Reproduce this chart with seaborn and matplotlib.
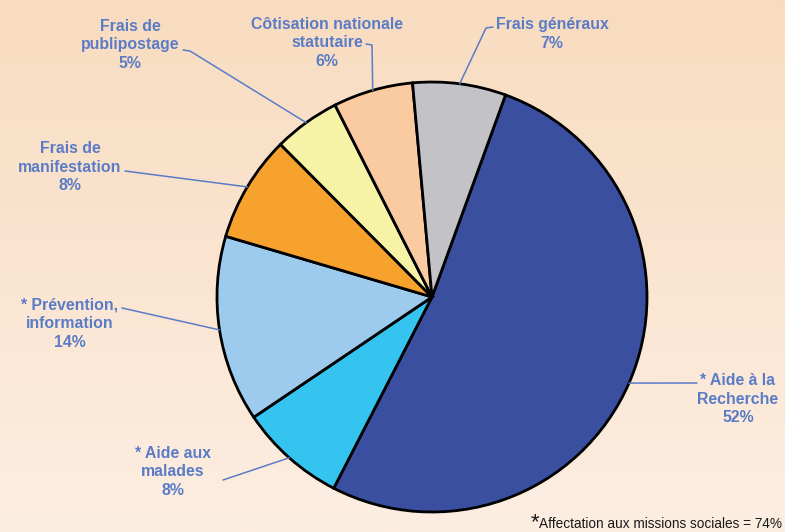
"""Répartition des dépenses - camembert avec étiquettes reliées."""

import numpy as np
import matplotlib

matplotlib.use("Agg")
import matplotlib.pyplot as plt
import seaborn as sns


categories = [
    "* Aide à la\nRecherche",
    "* Aide aux\nmalades",
    "* Prévention,\ninformation",
    "Frais de\nmanifestation",
    "Frais de\npublipostage",
    "Côtisation nationale\nstatutaire",
    "Frais généraux",
]
shares = [52, 8, 14, 8, 5, 6, 7]
footnote = "Affectation aux missions sociales = 74%"

slice_colors = ["#3B4FA0", "#34C4EF", "#9DCBEE", "#F7A22D", "#F6F3A7", "#FACBA1", "#C3C3C7"]
label_color = "#5A7CC6"

# layout, in pixels of the 785x532 image
W, H = 785, 532
CX, CY, R = 432, 297, 215
label_pos = [(738, 399), (173, 472), (70, 324), (70, 167), (130, 45), (327, 43), (552, 34)]
leader_start = [
    [(697, 383)],
    [(223, 480)],
    [(122, 308)],
    [(125, 171)],
    [(183, 50), (190, 51)],
    [(366, 44), (372, 45)],
    [(493, 27), (486, 28)],
]


def px(x, y):
    return (x - CX) / R, (CY - y) / R


sns.set_theme(style="white")
plt.rcParams["font.family"] = ["Liberation Sans", "DejaVu Sans"]

fig = plt.figure(figsize=(W / 100, H / 100), dpi=100)

# soft peach background gradient
bg = fig.add_axes([0, 0, 1, 1])
grad = np.linspace(0, 1, 256)[:, None]
top = np.array([248, 220, 192]) / 255
bottom = np.array([253, 238, 226]) / 255
img = top[None, None, :] * (1 - grad[:, :, None]) + bottom[None, None, :] * grad[:, :, None]
bg.imshow(img, aspect="auto", extent=[0, 1, 0, 1])
bg.set_axis_off()

ax = fig.add_axes([(CX - R) / W, (H - CY - R) / H, 2 * R / W, 2 * R / H])
ax.set_facecolor("none")
palette = sns.color_palette(slice_colors)
wedges, _ = ax.pie(
    shares,
    colors=palette,
    startangle=70,
    counterclock=False,
    radius=1,
    wedgeprops=dict(edgecolor="black", linewidth=2),
)
ax.set_xlim(-1, 1)
ax.set_ylim(-1, 1)
ax.set_axis_off()

for wedge, cat, share, pos, start in zip(wedges, categories, shares, label_pos, leader_start):
    mid = np.deg2rad((wedge.theta1 + wedge.theta2) / 2)
    anchor = (np.cos(mid), np.sin(mid))
    pts = [px(*p) for p in start] + [anchor]
    ax.plot([p[0] for p in pts], [p[1] for p in pts], color=label_color, lw=1.1, clip_on=False, zorder=1)
    tx, ty = px(*pos)
    ax.text(tx, ty, f"{cat}\n{share}%", ha="center", va="center", multialignment="center",
            color=label_color, fontsize=11.4, fontweight="bold", linespacing=1.3, clip_on=False)

fig.text(531 / W, (H - 528) / H, "*", fontsize=16, color="#1a1a1a", ha="left", va="baseline")
fig.text(539 / W, (H - 528) / H, footnote, fontsize=9.8, color="#1a1a1a", ha="left", va="baseline")

fig.savefig("out.png", dpi=100)
plt.close(fig)
